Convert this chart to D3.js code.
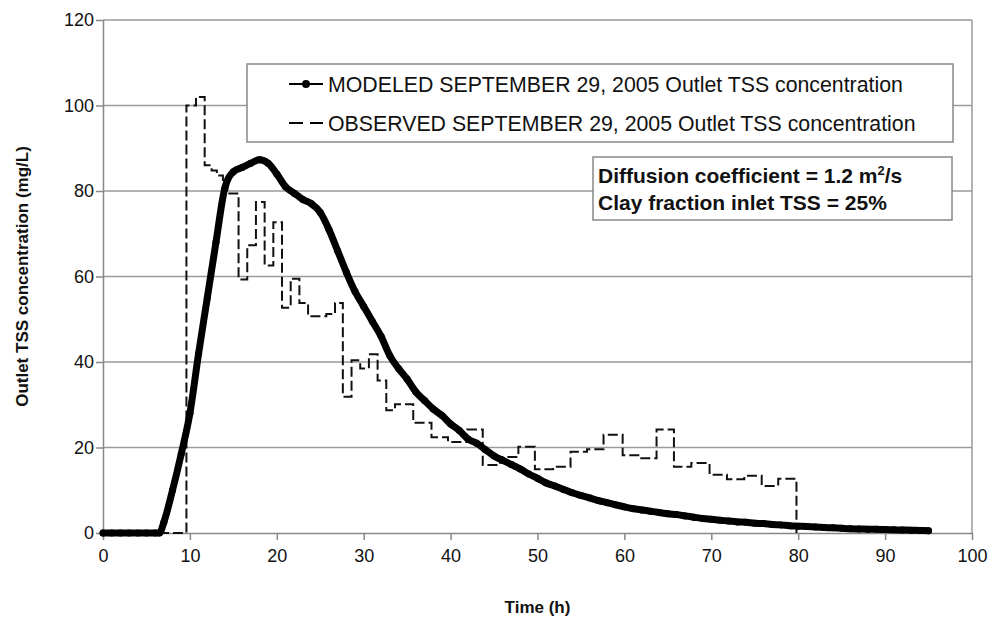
<!DOCTYPE html>
<html>
<head>
<meta charset="utf-8">
<script src="https://cdn.jsdelivr.net/npm/d3@7"></script>
<style>
body { margin: 0; background: #fff; }
text { font-family: "Liberation Sans", Arial, sans-serif; fill: #111; }
</style>
</head>
<body>
<svg></svg>
<script>
var width = 993,
    height = 620;

// modeled outlet TSS (mg/L) against time (h)
var modelTime = [0, 1, 2, 3, 4, 5, 6, 6.5, 7, 8, 9, 10, 11, 12, 13, 14, 15, 16, 17, 18, 19,
    20, 21, 22, 23, 24, 25, 26, 27, 28, 29, 30, 31, 32, 33, 34, 35, 36, 37, 38, 39,
    40, 41, 42, 43, 44, 45, 46, 47, 48, 49, 50, 51, 52, 53, 54, 55, 56, 57, 58, 59,
    60, 61, 62, 63, 64, 65, 66, 67, 68, 69, 70, 71, 72, 73, 74, 75, 76, 77, 78, 79,
    80, 81, 82, 83, 84, 85, 86, 87, 88, 89, 90, 91, 92, 93, 94, 95];
var modelTss = [0, 0, 0, 0, 0, 0, 0, 0, 2.5, 10, 18.5, 28, 42, 55, 68, 80.5, 84.5, 85.5, 86.5, 87.3, 86.5,
    84, 81, 79.5, 78, 77, 75, 71, 66, 61, 56.5, 53, 49.5, 46, 41.5, 38.5, 36, 33, 31, 29, 27.5,
    25.5, 24, 22, 21, 19.5, 18, 17, 16, 15, 13.8, 12.8, 11.7, 11, 10.2, 9.4, 8.8, 8.2, 7.6, 7.1, 6.6,
    6.1, 5.7, 5.4, 5.1, 4.8, 4.5, 4.3, 4, 3.7, 3.4, 3.2, 3, 2.8, 2.6, 2.5, 2.3, 2.2, 2, 1.9, 1.7,
    1.6, 1.5, 1.4, 1.3, 1.2, 1.1, 1, 0.95, 0.9, 0.85, 0.8, 0.75, 0.7, 0.65, 0.6, 0.55];

// observed outlet TSS, step values (value holds from this time until the next)
var obsTime = [0, 9.6, 10.7, 11.7, 12.5, 13.1, 13.8, 14.3, 15.6, 16.6, 17.6, 18.6, 19.6, 20.6, 21.6,
    22.6, 23.6, 25.7, 26.7, 27.6, 28.6, 29.6, 30.6, 31.6, 32.6, 33.6, 35.7, 37.8, 39.7, 41.9,
    43.7, 45.7, 47.8, 49.7, 51.8, 53.8, 55.7, 57.6, 59.8, 61.8, 63.7, 65.7, 67.7, 69.8, 71.8,
    73.8, 75.8, 77.7, 79.8];
var obsTss = [0, 100, 102, 86, 84.8, 83.6, 81.5, 79.4, 59.3, 67.3, 77.4, 62.6, 72.7, 52.7, 59.5,
    53.8, 50.7, 51.2, 53.8, 31.9, 40.4, 38.5, 41.8, 35.7, 28.7, 30.1, 25.8, 22.4, 21.3, 24.2,
    15.9, 17.8, 20.2, 14.9, 15.5, 19, 19.6, 23, 18.2, 17.5, 24.2, 15.5, 16.4, 13.6, 12.6,
    13.4, 11, 12.7, 0];

var xTicks = [0, 10, 20, 30, 40, 50, 60, 70, 80, 90, 100];
var yTicks = [0, 20, 40, 60, 80, 100, 120];
var seriesNames = ["MODELED SEPTEMBER 29, 2005 Outlet TSS concentration",
    "OBSERVED SEPTEMBER 29, 2005 Outlet TSS concentration"];
var noteLines = ["Diffusion coefficient = 1.2 m", "Clay fraction inlet TSS = 25%"];

var svg = d3.select("svg")
    .attr("width", width)
    .attr("height", height);

svg.append("rect").attr("width", width).attr("height", height).attr("fill", "#fff");

var x = d3.scaleLinear().domain([0, 100]).range([103, 972]);
var y = d3.scaleLinear().domain([0, 120]).range([533, 20]);

var grid = "#9a9a9a";

// horizontal gridlines
svg.append("g")
    .selectAll("line")
    .data(yTicks.filter(d => d > 0))
    .enter().append("line")
    .attr("x1", x(0)).attr("x2", x(100))
    .attr("y1", d => y(d)).attr("y2", d => y(d))
    .attr("stroke", grid).attr("stroke-width", 1.5);

// right border of plot area
svg.append("line")
    .attr("x1", x(100)).attr("x2", x(100))
    .attr("y1", y(0)).attr("y2", y(120))
    .attr("stroke", grid).attr("stroke-width", 1.5);

var yAxis = svg.append("g")
    .attr("transform", "translate(" + x(0) + ",0)")
    .call(d3.axisLeft(y).tickValues(yTicks).tickSize(7).tickPadding(2).tickSizeOuter(0));

var xAxis = svg.append("g")
    .attr("transform", "translate(0," + y(0) + ")")
    .call(d3.axisBottom(x).tickValues(xTicks).tickSize(7).tickPadding(9).tickSizeOuter(0));

[yAxis, xAxis].forEach(a => {
    a.select(".domain").attr("stroke", "#888").attr("stroke-width", 1.5);
    a.selectAll(".tick line").attr("stroke", "#888").attr("stroke-width", 1.5);
    a.selectAll(".tick text")
        .attr("font-size", 18)
        .attr("font-family", "'Liberation Sans', Arial, sans-serif")
        .attr("fill", "#222");
});

// axis titles
svg.append("text")
    .attr("x", (x(0) + x(100)) / 2)
    .attr("y", 613)
    .attr("text-anchor", "middle")
    .attr("font-size", 17)
    .attr("font-weight", "bold")
    .text("Time (h)");

svg.append("text")
    .attr("transform", "translate(28," + (y(0) + y(120)) / 2 + ") rotate(-90)")
    .attr("text-anchor", "middle")
    .attr("font-size", 17)
    .attr("font-weight", "bold")
    .text("Outlet TSS concentration (mg/L)");

// observed series, dashed step line
var obsData = obsTime.map((t, i) => [t, obsTss[i]]);
var stepLine = d3.line()
    .x(d => x(d[0]))
    .y(d => y(d[1]))
    .curve(d3.curveStepAfter);

svg.append("path")
    .datum(obsData)
    .attr("d", stepLine)
    .attr("fill", "none")
    .attr("stroke", "#111")
    .attr("stroke-width", 2)
    .attr("stroke-dasharray", "10,4");

// modeled series, heavy line with markers
var modelData = modelTime.map((t, i) => [t, modelTss[i]]);
var modelLine = d3.line()
    .x(d => x(d[0]))
    .y(d => y(d[1]))
    .curve(d3.curveMonotoneX);

svg.append("path")
    .datum(modelData)
    .attr("d", modelLine)
    .attr("fill", "none")
    .attr("stroke", "#000")
    .attr("stroke-width", 7)
    .attr("stroke-linejoin", "round")
    .attr("stroke-linecap", "round");

svg.append("g")
    .selectAll("circle")
    .data(modelData)
    .enter().append("circle")
    .attr("cx", d => x(d[0]))
    .attr("cy", d => y(d[1]))
    .attr("r", 3.5)
    .attr("fill", "#000");

// legend
var legend = svg.append("g");
legend.append("rect")
    .attr("x", 247).attr("y", 64)
    .attr("width", 706).attr("height", 78)
    .attr("fill", "#fff")
    .attr("stroke", "#888").attr("stroke-width", 1.5);

legend.append("line")
    .attr("x1", 289).attr("x2", 323).attr("y1", 84).attr("y2", 84)
    .attr("stroke", "#000").attr("stroke-width", 2);
legend.append("circle")
    .attr("cx", 306).attr("cy", 84).attr("r", 4).attr("fill", "#000");
legend.append("line")
    .attr("x1", 289).attr("x2", 323).attr("y1", 123).attr("y2", 123)
    .attr("stroke", "#000").attr("stroke-width", 2)
    .attr("stroke-dasharray", "14,7");

legend.selectAll("text.lab")
    .data(seriesNames)
    .enter().append("text")
    .attr("class", "lab")
    .attr("x", 328)
    .attr("y", (d, i) => 92 + i * 39)
    .attr("font-size", 21.3)
    .text(d => d);

// note box
var note = svg.append("g");
note.append("rect")
    .attr("x", 593).attr("y", 157)
    .attr("width", 359).attr("height", 63)
    .attr("fill", "#fff")
    .attr("stroke", "#888").attr("stroke-width", 1.5);

var t1 = note.append("text")
    .attr("x", 598).attr("y", 183)
    .attr("font-size", 21).attr("font-weight", "bold")
    .text(noteLines[0]);
t1.append("tspan").attr("dy", -8).attr("font-size", 13).text("2");
t1.append("tspan").attr("dy", 8).text("/s");

note.append("text")
    .attr("x", 598).attr("y", 210)
    .attr("font-size", 21).attr("font-weight", "bold")
    .text(noteLines[1]);
</script>
</body>
</html>
